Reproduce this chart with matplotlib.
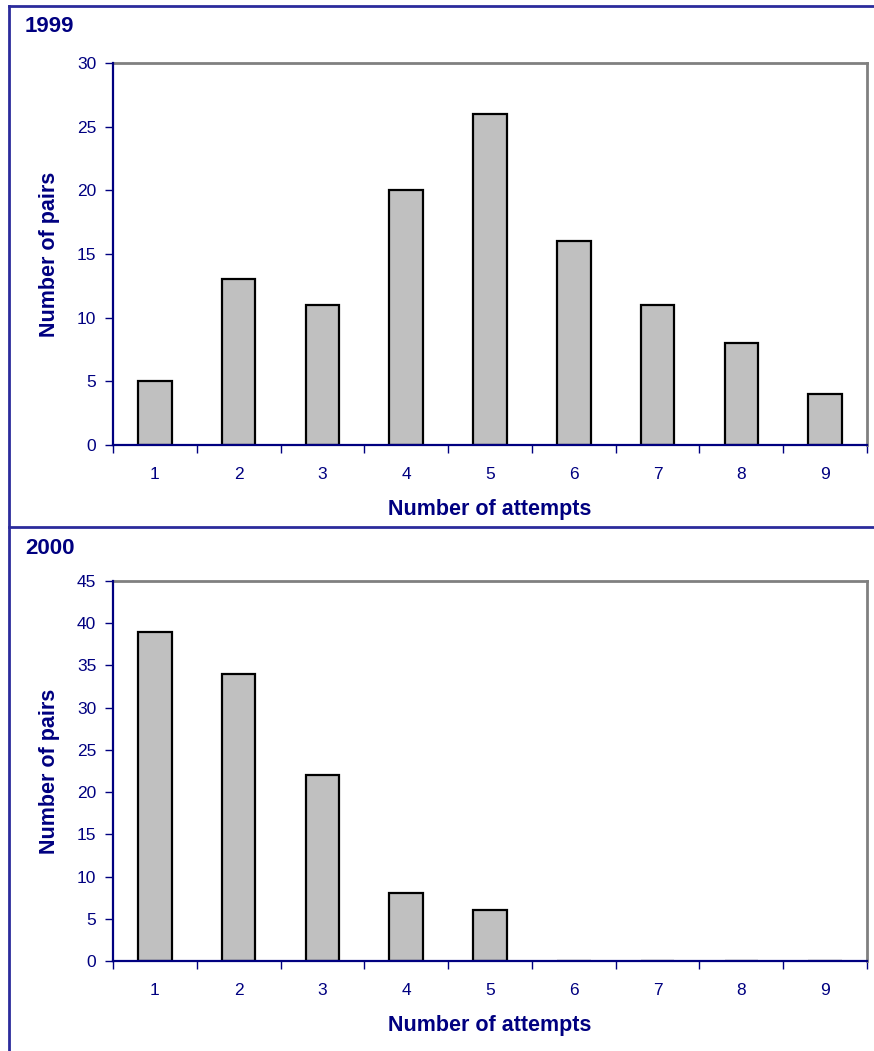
import matplotlib
matplotlib.use("Agg")
import matplotlib.pyplot as plt
from matplotlib.lines import Line2D

attempts = [1, 2, 3, 4, 5, 6, 7, 8, 9]
pairs_1999 = [5, 13, 11, 20, 26, 16, 11, 8, 4]
pairs_2000 = [39, 34, 22, 8, 6, 0, 0, 0, 0]
yticks_1999 = [0, 5, 10, 15, 20, 25, 30]
yticks_2000 = [0, 5, 10, 15, 20, 25, 30, 35, 40, 45]

NAVY = "#000080"
W, H = 874, 1051
plt.rcParams['font.family'] = ['Liberation Sans', 'DejaVu Sans']
fig = plt.figure(figsize=(W / 100, H / 100), dpi=100)


def px_axes(left, top, right, bottom):
    return fig.add_axes([left / W, 1 - bottom / H, (right - left) / W, (bottom - top) / H])


def draw(ax, vals, yticks, title, title_y):
    x = list(range(len(attempts)))
    ax.bar(x, vals, width=0.4, color="#C0C0C0", edgecolor="black", linewidth=1.6, zorder=2)
    ax.set_xlim(-0.5, len(attempts) - 0.5)
    ax.set_ylim(yticks[0], yticks[-1])
    ax.set_yticks(yticks)
    ax.set_xticks([i - 0.5 for i in range(len(attempts) + 1)])
    ax.set_xticklabels([])
    ax.set_xticks(x, minor=True)
    ax.set_xticklabels([str(a) for a in attempts], minor=True)
    ax.tick_params(axis="x", which="major", direction="out", length=6, color=NAVY, width=1)
    ax.tick_params(axis="x", which="minor", length=0, pad=16, labelsize=12.5, labelcolor=NAVY)
    ax.tick_params(axis="y", direction="out", length=6, color=NAVY, width=1, labelsize=12.5,
                   labelcolor=NAVY, pad=6)
    for s in ["left", "bottom"]:
        ax.spines[s].set_color(NAVY)
        ax.spines[s].set_linewidth(1.6)
        ax.spines[s].set_zorder(3)
    for s in ["top", "right"]:
        ax.spines[s].set_color("#808080")
        ax.spines[s].set_linewidth(2)
    ax.set_xlabel("Number of attempts", fontsize=15.5, fontweight="bold", color=NAVY, labelpad=12)
    ax.set_ylabel("Number of pairs", fontsize=15.5, fontweight="bold", color=NAVY, labelpad=12)
    fig.text(25 / W, 1 - title_y / H, title, fontsize=16, fontweight="bold", color=NAVY,
             va="center", ha="left")


ax1 = px_axes(113, 63, 867, 445)
draw(ax1, pairs_1999, yticks_1999, "1999", 26)
ax2 = px_axes(113, 581, 867, 961)
draw(ax2, pairs_2000, yticks_2000, "2000", 548)

fcol = "#2b2b9c"
for (x0, y0, x1, y1) in [(9, 6, W, 6), (9, 6, 9, H), (9, 527, W, 527)]:
    fig.add_artist(Line2D([x0 / W, x1 / W], [1 - y0 / H, 1 - y1 / H], color=fcol,
                          linewidth=2, transform=fig.transFigure))

fig.savefig("out.png", dpi=100)
